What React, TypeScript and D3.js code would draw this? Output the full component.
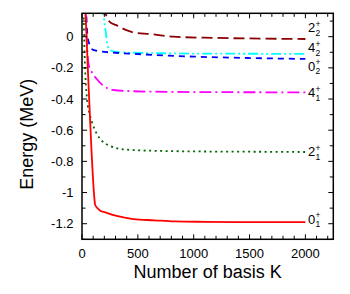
import React from "react";
import * as d3 from "d3";

// ---- data ----
const K_0_1 = [20, 55, 85, 110, 118, 160, 220, 310, 460, 650, 830, 1100, 1500, 2000];
const E_0_1 = [0.35, -0.25, -0.73, -1.03, -1.08, -1.115, -1.13, -1.15, -1.17, -1.178, -1.185, -1.188, -1.19, -1.19];

const K_2_1 = [10, 25, 45, 70, 90, 130, 180, 250, 400, 700, 1000, 1500, 2000];
const E_2_1 = [0.3, -0.15, -0.4, -0.5, -0.55, -0.62, -0.67, -0.7, -0.725, -0.733, -0.736, -0.738, -0.74];

const K_4_1 = [25, 35, 60, 90, 130, 190, 280, 460, 800, 1200, 2000];
const E_4_1 = [0.3, 0.1, -0.18, -0.23, -0.27, -0.314, -0.342, -0.35, -0.354, -0.356, -0.357];

const K_0_2 = [35, 50, 70, 100, 160, 300, 460, 1000, 1500, 2000];
const E_0_2 = [0.2, 0.0, -0.055, -0.085, -0.094, -0.103, -0.11, -0.128, -0.137, -0.143];

const K_4_2 = [180, 200, 218, 228, 262, 320, 460, 800, 1200, 2000];
const E_4_2 = [0.2, 0.1, 0.0, -0.055, -0.09, -0.099, -0.103, -0.107, -0.109, -0.11];

const K_2_2 = [195, 215, 248, 307, 397, 457, 610, 816, 1200, 1600, 2000];
const E_2_2 = [0.2, 0.14, 0.095, 0.074, 0.042, 0.028, 0.017, 0.0, -0.008, -0.012, -0.015];

// state labels: main digit, subscript, label vertical position (MeV)
const labelMain = ["2", "4", "0", "4", "2", "0"];
const labelSub = ["2", "2", "2", "1", "1", "1"];
const labelY = [0.057, -0.07, -0.188, -0.359, -0.737, -1.17];

const xTickValues = [0, 500, 1000, 1500, 2000];
const xTickLabels = ["0", "500", "1000", "1500", "2000"];
const yTickValues = [0, -0.2, -0.4, -0.6, -0.8, -1, -1.2];
const yTickLabels = ["0", "-0.2", "-0.4", "-0.6", "-0.8", "-1", "-1.2"];

const FONT = "'Liberation Sans', Arial, Helvetica, sans-serif";

export default function App() {
  const W = 350, H = 294;
  const left = 82, right = 333.3, top = 13.3, bottom = 239.3;

  const x = d3.scaleLinear().domain([0, 2250]).range([left, right]);
  const y = d3.scaleLinear().domain([-1.3, 0.15]).range([bottom, top]);

  const series = [
    { k: K_2_2, e: E_2_2, color: "#8b0000", dash: "11,5" },
    { k: K_4_2, e: E_4_2, color: "#00ffff", dash: "10,3,2,3,2,3" },
    { k: K_0_2, e: E_0_2, color: "#0000ff", dash: "6,5" },
    { k: K_4_1, e: E_4_1, color: "#ff00ff", dash: "12,4,2,4" },
    { k: K_2_1, e: E_2_1, color: "#006400", dash: "2,3.5" },
    { k: K_0_1, e: E_0_1, color: "#ff0000", dash: "none" },
  ];

  const line = d3
    .line<[number, number]>()
    .x((d) => x(d[0]))
    .y((d) => y(d[1]))
    .curve(d3.curveMonotoneX);

  const xMinor = d3.range(0, 2251, 100).filter((v) => v % 500 !== 0);
  const yMinor = d3.range(-13, 2, 1).map((v) => v / 10).filter((v) => Math.round(v * 10) % 2 !== 0);

  const majorLen = 5, minorLen = 3.5;

  return (
    <svg
      width={W}
      height={H}
      style={{ position: "absolute", left: 0, top: 0, background: "#fff" }}
      fontFamily={FONT}
    >
      <rect x={0} y={0} width={W} height={H} fill="#fff" />
      <defs>
        <clipPath id="plotclip">
          <rect x={left} y={top} width={right - left} height={bottom - top} />
        </clipPath>
      </defs>

      {/* curves */}
      <g clipPath="url(#plotclip)">
        {series.map((s, i) => (
          <path
            key={i}
            d={line(s.k.map((kv, j) => [kv, s.e[j]] as [number, number])) || ""}
            fill="none"
            stroke={s.color}
            strokeWidth={1.8}
            strokeDasharray={s.dash}
          />
        ))}
      </g>

      {/* ticks */}
      <g stroke="#000" strokeWidth={1}>
        {xTickValues.map((v, i) => (
          <g key={"xt" + i}>
            <line x1={x(v)} x2={x(v)} y1={bottom} y2={bottom - majorLen} />
            <line x1={x(v)} x2={x(v)} y1={top} y2={top + majorLen} />
          </g>
        ))}
        {xMinor.map((v, i) => (
          <g key={"xm" + i}>
            <line x1={x(v)} x2={x(v)} y1={bottom} y2={bottom - minorLen} />
            <line x1={x(v)} x2={x(v)} y1={top} y2={top + minorLen} />
          </g>
        ))}
        {yTickValues.map((v, i) => (
          <g key={"yt" + i}>
            <line x1={left} x2={left + majorLen} y1={y(v)} y2={y(v)} />
            <line x1={right} x2={right - majorLen} y1={y(v)} y2={y(v)} />
          </g>
        ))}
        {yMinor.map((v, i) => (
          <g key={"ym" + i}>
            <line x1={left} x2={left + minorLen} y1={y(v)} y2={y(v)} />
            <line x1={right} x2={right - minorLen} y1={y(v)} y2={y(v)} />
          </g>
        ))}
      </g>

      {/* frame */}
      <rect
        x={left}
        y={top}
        width={right - left}
        height={bottom - top}
        fill="none"
        stroke="#000"
        strokeWidth={1.5}
      />

      {/* tick labels */}
      <g fontSize={13} fill="#000">
        {xTickValues.map((v, i) => (
          <text key={"xl" + i} x={x(v)} y={257.5} textAnchor="middle">
            {xTickLabels[i]}
          </text>
        ))}
        {yTickValues.map((v, i) => (
          <text key={"yl" + i} x={73.5} y={y(v) + 4.6} textAnchor="end">
            {yTickLabels[i]}
          </text>
        ))}
      </g>

      {/* state labels */}
      <g fill="#000">
        {labelMain.map((m, i) => {
          const yc = y(labelY[i]);
          const lx = 308;
          return (
            <g key={"sl" + i}>
              <text x={lx} y={yc + 4.6} fontSize={13}>
                {m}
              </text>
              <text x={lx + 7.4} y={yc + 8} fontSize={8.5}>
                {labelSub[i]}
              </text>
              <text x={lx + 7.4} y={yc - 1} fontSize={8.5}>
                +
              </text>
            </g>
          );
        })}
      </g>

      {/* axis titles */}
      <text x={(left + right) / 2} y={278} textAnchor="middle" fontSize={18} fill="#000">
        Number of basis K
      </text>
      <text
        transform={`translate(33, ${(top + bottom) / 2 + 8}) rotate(-90)`}
        textAnchor="middle"
        fontSize={18}
        fill="#000"
      >
        Energy (MeV)
      </text>
    </svg>
  );
}
